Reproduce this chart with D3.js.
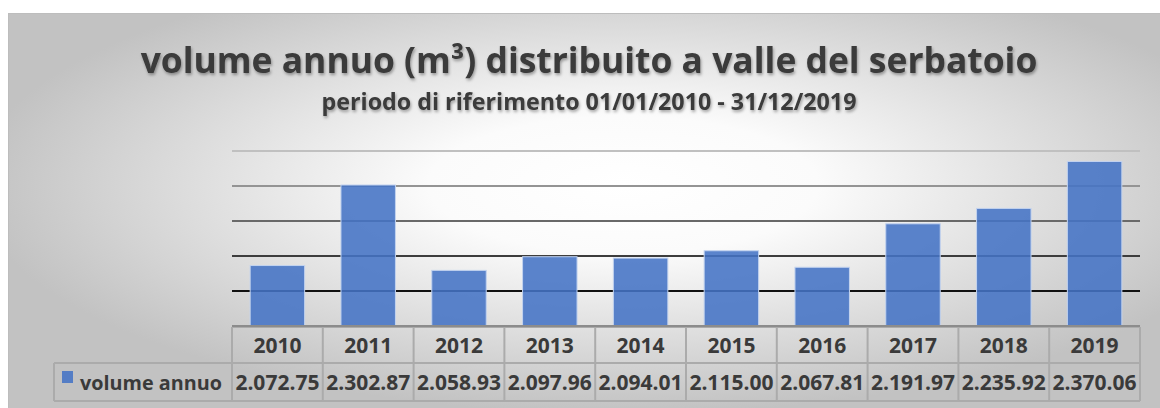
<!DOCTYPE html>
<html lang="it">
<head>
<meta charset="UTF-8">
<title>volume annuo</title>
<style>
  html, body { margin: 0; padding: 0; background: #fff; }
  svg { display: block; font-family: "Open Sans", sans-serif; }
</style>
</head>
<body>
<div id="chart"></div>
<script src="https://d3js.org/d3.v7.min.js"></script>
<script>
const years = ["2010", "2011", "2012", "2013", "2014", "2015", "2016", "2017", "2018", "2019"];
const volumes = [2072.75, 2302.87, 2058.93, 2097.96, 2094.01, 2115.00, 2067.81, 2191.97, 2235.92, 2370.06];
const yTicks = [1900, 2000, 2100, 2200, 2300, 2400];
const seriesName = "volume annuo";
const title = "volume annuo (m³) distribuito a valle del serbatoio";
const subtitle = "periodo di riferimento 01/01/2010 - 31/12/2019";

const width = 1160, height = 408;
const plotLeft = 232, plotRight = 1140, plotTop = 151, plotBottom = 326;
const textColor = "#3a3a3a";
const gridColor = "#ababab";

const fmt = d3.formatLocale({ decimal: ".", thousands: ".", grouping: [3], currency: ["", ""] }).format(",.2f");

const svg = d3.select("#chart").append("svg")
    .attr("width", width)
    .attr("height", height);

const defs = svg.append("defs");
const bg = defs.append("radialGradient")
    .attr("id", "bg")
    .attr("cx", 0.53).attr("cy", 0.42).attr("r", 0.56);
bg.append("stop").attr("offset", 0).attr("stop-color", "#ffffff");
bg.append("stop").attr("offset", 0.3).attr("stop-color", "#fbfbfb");
bg.append("stop").attr("offset", 1).attr("stop-color", "#c2c2c2");

defs.append("filter").attr("id", "shadow")
    .attr("x", "-5%").attr("y", "-30%").attr("width", "110%").attr("height", "160%")
    .append("feDropShadow")
    .attr("dx", 1).attr("dy", 2).attr("stdDeviation", 1.5)
    .attr("flood-color", "#000").attr("flood-opacity", 0.35);

// chart area
svg.append("rect")
    .attr("x", 8.5).attr("y", 13.5)
    .attr("width", width).attr("height", height)
    .attr("fill", "url(#bg)")
    .attr("stroke", "#bdbdbd")
    .attr("stroke-width", 1);

// size a text so it spans the same width as in the reference
function fitText(sel, target) {
    const w = sel.node().getComputedTextLength();
    const fs = parseFloat(sel.attr("font-size"));
    sel.attr("font-size", (fs * target / w).toFixed(2));
}

svg.append("text")
    .attr("x", 589).attr("y", 73)
    .attr("text-anchor", "middle")
    .attr("font-size", 34)
    .attr("font-weight", 700)
    .attr("fill", textColor)
    .attr("filter", "url(#shadow)")
    .text(title)
    .call(fitText, 897);

svg.append("text")
    .attr("x", 589).attr("y", 110)
    .attr("text-anchor", "middle")
    .attr("font-size", 20)
    .attr("font-weight", 700)
    .attr("fill", textColor)
    .attr("filter", "url(#shadow)")
    .text(subtitle)
    .call(fitText, 535);

// scales
const xCol = d3.scaleBand()
    .domain(years)
    .range([plotLeft, plotRight]);

const x = d3.scaleBand()
    .domain(years)
    .range([plotLeft, plotRight])
    .paddingInner(0.4)
    .paddingOuter(0.2);

const y = d3.scaleLinear()
    .domain([yTicks[0], yTicks[yTicks.length - 1]])
    .range([plotBottom, plotTop]);

const lineShade = d3.scaleLinear()
    .domain([2000, 2400])
    .range(["#111111", "#c0c0c0"]);

// gridlines
svg.append("g")
    .selectAll("line")
    .data(yTicks.slice(1))
    .join("line")
    .attr("x1", plotLeft).attr("x2", plotRight)
    .attr("y1", d => y(d)).attr("y2", d => y(d))
    .attr("stroke", d => lineShade(d))
    .attr("stroke-width", 2);

// bars
svg.append("g")
    .selectAll("rect")
    .data(years.map((yr, i) => ({ year: yr, value: volumes[i] })))
    .join("rect")
    .attr("x", d => x(d.year))
    .attr("width", x.bandwidth())
    .attr("y", d => y(d.value))
    .attr("height", d => y(yTicks[0]) - y(d.value))
    .attr("fill", "#4473c5")
    .attr("fill-opacity", 0.88)
    .attr("stroke", "#c3d3ef")
    .attr("stroke-width", 1);

// data table
const hTop = plotBottom + 1, hBot = hTop + 36, dBot = hBot + 38;
const legendLeft = 54;
const table = svg.append("g")
    .attr("stroke", gridColor)
    .attr("stroke-width", 2)
    .attr("fill", "none");

table.append("line")
    .attr("x1", plotLeft).attr("x2", plotRight)
    .attr("y1", hTop).attr("y2", hTop);
table.append("line")
    .attr("x1", legendLeft).attr("x2", plotRight)
    .attr("y1", hBot).attr("y2", hBot);
table.append("line")
    .attr("x1", legendLeft).attr("x2", plotRight)
    .attr("y1", dBot).attr("y2", dBot);
table.append("line")
    .attr("x1", legendLeft).attr("x2", legendLeft)
    .attr("y1", hBot).attr("y2", dBot);
table.selectAll("line.col")
    .data(years.map(d => xCol(d)).concat([plotRight]))
    .join("line")
    .attr("class", "col")
    .attr("x1", d => d).attr("x2", d => d)
    .attr("y1", hTop).attr("y2", dBot);

// axis baseline
svg.append("line")
    .attr("x1", plotLeft).attr("x2", plotRight)
    .attr("y1", plotBottom).attr("y2", plotBottom)
    .attr("stroke", "#8c8c8c")
    .attr("stroke-width", 2);

const cells = svg.append("g")
    .attr("font-size", 21)
    .attr("font-weight", 700)
    .attr("fill", textColor)
    .attr("text-anchor", "middle");

cells.selectAll("text.year")
    .data(years)
    .join("text")
    .attr("class", "year")
    .attr("x", d => xCol(d) + xCol.bandwidth() / 2)
    .attr("y", hTop + 26)
    .text(d => d);

cells.selectAll("text.val")
    .data(volumes)
    .join("text")
    .attr("class", "val")
    .attr("x", (d, i) => xCol(years[i]) + xCol.bandwidth() / 2)
    .attr("y", hBot + 27)
    .text(d => fmt(d));

// legend key
svg.append("rect")
    .attr("x", 62).attr("y", 371)
    .attr("width", 11).attr("height", 12)
    .attr("fill", "#4473c5")
    .attr("fill-opacity", 0.88);

svg.append("text")
    .attr("x", 80).attr("y", hBot + 27)
    .attr("font-size", 21)
    .attr("font-weight", 700)
    .attr("fill", textColor)
    .text(seriesName)
    .call(fitText, 142);
</script>
</body>
</html>
